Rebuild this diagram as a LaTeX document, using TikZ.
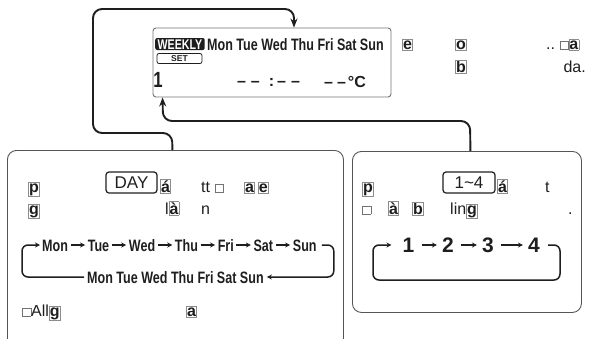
\documentclass[tikz,border=0pt]{standalone}
\usepackage{fontspec}
\setmainfont{Liberation Sans}
\newfontfamily\condf[FakeStretch=0.76]{Liberation Sans}
\usetikzlibrary{arrows.meta,positioning}
\definecolor{ink}{HTML}{1E1E1E}
\definecolor{frame}{HTML}{555555}
\newcommand\gl[1]{\begingroup\setlength\fboxsep{0.4pt}\setlength\fboxrule{0.5pt}\color{black!45}\fbox{\color{ink}\bfseries #1}\endgroup}
\newcommand\eb{\begingroup\setlength\fboxsep{0pt}\setlength\fboxrule{0.5pt}\color{black!55}\fbox{\rule{0pt}{8pt}\hspace{8pt}}\endgroup}
\begin{document}
\begin{tikzpicture}[x=1pt,y=-1pt,
  panel/.style={draw=frame, line width=0.9pt, rounded corners=9pt, inner sep=0pt, anchor=north west},
  lcdbox/.style={draw=black!55, line width=0.9pt, rounded corners=3pt, inner sep=0pt},
  conn/.style={draw=ink, line width=1.9pt, rounded corners=9pt, -{Stealth[length=9pt,width=7pt]}},
  loopl/.style={draw=ink, line width=1.5pt, rounded corners=6pt},
  dayarr/.style={draw=ink, line width=1.1pt, -{Stealth[length=5pt,width=5pt]}},
  day/.style={font=\condf\bfseries\fontsize{16.5}{17}\selectfont, text=ink, inner sep=0pt, text height=12pt, text depth=0pt},
  dig/.style={font=\bfseries\fontsize{21}{21}\selectfont, text=ink, inner sep=0pt, text height=15pt, text depth=0pt},
  txt/.style={font=\fontsize{16}{17}\selectfont, text=ink, inner sep=0pt, anchor=base west},
  keybox/.style={draw=ink, line width=1.2pt, rounded corners=3pt, inner sep=0pt, font=\fontsize{17}{17}\selectfont, text=ink}]
\useasboundingbox (0,0) rectangle (590,338);
\clip (0,0) rectangle (590,338);

% LCD
\node[lcdbox, minimum width=238pt, minimum height=69pt] (lcd) at (272,62.5) {};
\node[fill=ink, text=white, rounded corners=2pt, inner xsep=2.5pt, inner ysep=1pt, text height=10pt, text depth=0pt,
  font=\condf\bfseries\fontsize{14}{14}\selectfont, anchor=west] (wk) at (155,44) {WEEKLY};
\node[day, anchor=base west] (lcdd) at (207,50) {Mon Tue Wed Thu Fri Sat Sun};
\node[draw=ink, line width=0.8pt, rounded corners=2pt, minimum width=45pt, minimum height=10pt, inner sep=0pt,
  font=\bfseries\fontsize{8.5}{9}\selectfont, text=ink] (set) at (179.5,58.5) {SET};
\node[font=\condf\bfseries\fontsize{22}{22}\selectfont, text=ink, inner sep=0pt, anchor=base] (one) at (158,87) {1};
\node[font=\bfseries\fontsize{16}{16}\selectfont, text=ink, inner sep=0pt, anchor=base] (clk) at (268.5,86)
  {–\hspace{5pt}–\hspace{9pt}:\hspace{3pt}–\hspace{5pt}–};
\node[font=\bfseries\fontsize{16}{16}\selectfont, text=ink, inner sep=0pt, anchor=base] (tmp) at (345,87)
  {–\hspace{4pt}–\hspace{2pt}°C};

% text right of LCD
\node[txt] (g1) at (402,49) {\gl{e}};
\node[txt] (g2) at (455,49) {\gl{o}};
\node[txt] (g3) at (546,49) {..\ \eb\gl{a}};
\node[txt] (g4) at (455,72) {\gl{b}};
\node[txt, anchor=base east] (g5) at (586,72) {da.};

% panels
\node[panel, minimum width=336pt, minimum height=215pt] (lp) at (7,150) {};
\node[panel, minimum width=229pt, minimum height=161pt] (rp) at (352,151) {};

% connectors
\coordinate (la) at ([xshift=-3pt]lp.north);
\coordinate (lt) at ([xshift=22pt]lcd.north);
\coordinate (ra) at ([xshift=3.5pt]rp.north);
\coordinate (lbt) at ([xshift=10pt]lcd.south west);
\draw[conn] (la) -- (172,133) -- (93,133) -- (93,9) -- (294,9) -- (lt);
\draw[conn] (ra) -- (470,121) -- (163,121) -- (lbt);

% left panel text
\node[txt] (p1) at (28,192) {\gl{p}};
\node[keybox, minimum width=51pt, minimum height=21pt] (daykey) at (131.5,182.5) {DAY};
\node[txt] (p2) at (160,192) {\gl{á}};
\node[txt] (p3) at (201,192) {tt \eb};
\node[txt] (p4) at (244,192) {\gl{a}\hspace{3pt}\gl{e}};
\node[txt] (p5) at (28,214) {\gl{g}};
\node[txt] (p6) at (165,214) {l\gl{à}};
\node[txt] (p7) at (201,214) {n};
\node[txt] (p8) at (22,316) {\eb All\gl{g}};
\node[txt] (p9) at (186,316) {\gl{a}};

% day cycle
\node[day, anchor=base west] (t1) at (42,251) {Mon};
\node[day, right=19.4pt of t1] (t2) {Tue};
\node[day, right=19.4pt of t2] (t3) {Wed};
\node[day, right=19.4pt of t3] (t4) {Thu};
\node[day, right=19.4pt of t4] (t5) {Fri};
\node[day, right=19.4pt of t5] (t6) {Sat};
\node[day, right=19.4pt of t6] (t7) {Sun};
\foreach \a/\b in {t1/t2,t2/t3,t3/t4,t4/t5,t5/t6,t6/t7}
  \draw[dayarr, shorten <=2.5pt, shorten >=2.5pt] (\a) -- (\b);
\node[day, anchor=base west] (brow) at (87,283) {Mon Tue Wed Thu Fri Sat Sun};
\coordinate (lc) at ([xshift=-20pt]t1.west);
\coordinate (rc) at ([xshift=17pt]t7.east);
\draw[loopl, -{Stealth[length=5pt,width=5pt]}] ([xshift=-3pt]brow.west) -| (lc) -- ([xshift=-2pt]t1.west);
\draw[loopl, -{Stealth[length=5pt,width=5pt]}] ([xshift=5pt]t7.east) -| (rc |- brow.east) -- ([xshift=3pt]brow.east);

% right panel text
\node[txt] (q1) at (362,192) {\gl{p}};
\node[keybox, minimum width=52pt, minimum height=21pt] (key14) at (469,182.5) {1\textasciitilde 4};
\node[txt] (q2) at (497,192) {\gl{á}};
\node[txt] (q3) at (545,192) {t};
\node[txt] (q4) at (362,214) {\eb};
\node[txt] (q5) at (388,214) {\gl{à}};
\node[txt] (q6) at (412,214) {\gl{b}};
\node[txt] (q7) at (450,214) {lin\gl{g}};
\node[txt] (q8) at (568,214) {.};

% number cycle
\node[dig] (d1) at (408.5,245) {1};
\node[dig] (d2) at (448,245) {2};
\node[dig] (d3) at (488,245) {3};
\node[dig] (d4) at (534,245) {4};
\foreach \a/\b in {d1/d2,d2/d3,d3/d4}
  \draw[dayarr, shorten <=7pt, shorten >=5pt] (\a) -- (\b);
\coordinate (nr) at (560,245);
\coordinate (nl) at (373,245);
\draw[loopl, -{Stealth[length=5pt,width=5pt]}] ([xshift=8pt]d4.east) -- (nr) -- (560,280) -- (373,280) -- (nl) -- ([xshift=-11pt]d1.west);
\end{tikzpicture}
\end{document}
